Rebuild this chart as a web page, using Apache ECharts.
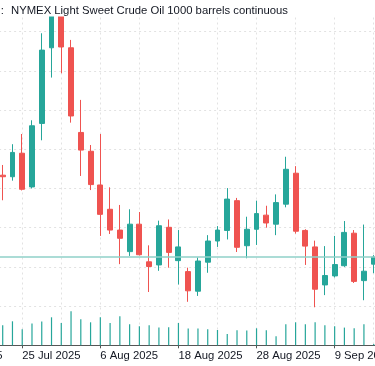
<!DOCTYPE html>
<html>
<head>
<meta charset="utf-8">
<script src="https://cdn.jsdelivr.net/npm/echarts@6/dist/echarts.min.js"></script>
<style>html,body{margin:0;padding:0;background:#fff;}#c{width:375px;height:366px;}</style>
</head>
<body>
<div id="c"></div>
<script>
// Trading days (first 6 and last 1 are outside the visible window, no data shown)
const dates = [
  '15 Jul 2025','16 Jul 2025','17 Jul 2025','18 Jul 2025','21 Jul 2025','22 Jul 2025',
  '23 Jul 2025','24 Jul 2025','25 Jul 2025','28 Jul 2025','29 Jul 2025','30 Jul 2025','31 Jul 2025',
  '1 Aug 2025','4 Aug 2025','5 Aug 2025','6 Aug 2025','7 Aug 2025','8 Aug 2025','11 Aug 2025',
  '12 Aug 2025','13 Aug 2025','14 Aug 2025','15 Aug 2025','18 Aug 2025','19 Aug 2025','20 Aug 2025',
  '21 Aug 2025','22 Aug 2025','25 Aug 2025','26 Aug 2025','27 Aug 2025','28 Aug 2025','29 Aug 2025',
  '1 Sep 2025','2 Sep 2025','3 Sep 2025','4 Sep 2025','5 Sep 2025','8 Sep 2025','9 Sep 2025',
  '10 Sep 2025','11 Sep 2025','12 Sep 2025','15 Sep 2025','16 Sep 2025'
];
const leadingHidden = 6;   // categories before the first visible candle
// OHLC of visible candles (23 Jul 2025 .. 15 Sep 2025)
const opens  = [65.34,65.30,65.90,65.04,66.66,68.59,69.60,68.59,66.43,65.95,65.09,64.47,63.94,
                63.39,64.09,63.13,63.05,64.01,63.16,62.88,62.38,63.12,63.66,63.93,64.69,63.54,
                63.96,64.32,64.09,64.60,65.39,63.93,63.51,62.54,62.77,63.03,63.86,62.65,63.07];
const closes = [65.30,65.92,64.98,66.60,68.53,69.70,68.61,66.85,65.98,65.10,64.34,63.94,63.73,
                64.09,63.31,63.01,64.05,63.37,63.51,62.39,63.15,63.66,63.94,64.73,63.50,63.96,
                64.36,64.12,64.64,65.49,63.91,63.53,62.43,62.78,63.06,63.88,62.63,62.89,63.25];
const lows   = [64.70,65.20,64.95,65.00,66.23,67.83,67.94,66.68,65.32,64.96,63.79,63.84,63.07,
                63.28,63.29,62.36,62.90,62.98,62.55,62.11,62.26,62.85,63.51,63.70,63.38,63.22,
                63.56,64.00,63.81,64.52,63.85,63.05,61.97,62.28,62.73,63.00,62.59,62.15,62.84];
const highs  = [65.60,66.13,66.39,66.74,68.96,69.91,69.81,68.79,67.26,66.11,66.39,65.03,64.58,
                64.47,64.40,63.55,64.18,64.21,63.94,62.98,63.24,63.81,64.04,65.01,64.76,64.28,
                64.69,64.56,64.85,65.81,65.57,63.96,63.67,63.53,63.79,64.17,63.94,64.08,63.30];
// Volume (thousand contracts)
const volumes = [200,240,160,217,237,280,223,340,260,230,280,223,290,
                 210,190,200,177,180,223,167,167,160,153,113,150,147,
                 170,150,90,210,230,210,230,200,190,177,170,210,13];

const candleData = [];
const volData = [];
for (let i = 0; i < dates.length; i++) {
  const k = i - leadingHidden;
  if (k >= 0 && k < opens.length) {
    candleData.push([opens[k], closes[k], lows[k], highs[k]]);
    volData.push(volumes[k]);
  } else {
    candleData.push('-');
    volData.push('-');
  }
}
const lastClose = closes[closes.length - 1];

const FONT = '"Liberation Sans", Arial, sans-serif';
const TEXT = '#131722';
const GRID = '#e2e2e2';

const chart = echarts.init(document.getElementById('c'), null, {renderer: 'canvas'});
chart.setOption({
  animation: false,
  backgroundColor: '#ffffff',
  grid: {left: -55.88, right: -8.46, top: -7.5, bottom: 20.7, containLabel: false, outerBoundsMode: 'none'},
  xAxis: {
    type: 'category',
    data: dates,
    boundaryGap: false,
    axisLine: {show: true, lineStyle: {color: '#555', width: 1}},
    axisTick: {show: true, interval: 7, length: 3, lineStyle: {color: '#555'}},
    axisLabel: {interval: 7, align: 'left', margin: 5, color: TEXT, fontSize: 11.3, fontFamily: FONT, hideOverlap: false},
    splitLine: {show: true, interval: 3, lineStyle: {color: GRID, type: [2, 3], width: 1}}
  },
  yAxis: [
    {
      type: 'value', min: 61, max: 70, interval: 1,
      axisLabel: {show: false}, axisLine: {show: false}, axisTick: {show: false},
      splitLine: {show: true, lineStyle: {color: GRID, type: [2, 3], width: 1}}
    },
    {
      type: 'value', min: 0, max: 3528, show: false,
      splitLine: {show: false}
    }
  ],
  series: [
    {
      type: 'bar',
      yAxisIndex: 1,
      data: volData,
      barWidth: 1.2,
      itemStyle: {color: '#26a69a'},
      silent: true
    },
    {
      type: 'candlestick',
      data: candleData,
      barWidth: 5.4,
      itemStyle: {
        color: '#26a69a', color0: '#ef5350',
        borderColor: '#26a69a', borderColor0: '#ef5350', borderWidth: 1
      },
      markLine: {
        silent: true,
        symbol: ['none', 'none'],
        label: {show: false},
        lineStyle: {color: '#8fd0c9', width: 1.5, type: 'solid'},
        data: [{yAxis: lastClose}]
      }
    }
  ],
  graphic: [
    {type: 'rect', z: 100, shape: {x: 0, y: 0, width: 375, height: 16.5}, style: {fill: '#ffffff'}},
    {type: 'text', z: 101, x: 0.8, y: 11, style: {text: ':', fill: TEXT, font: '11.3px ' + FONT, verticalAlign: 'middle'}},
    {type: 'text', z: 101, x: 11, y: 11, style: {text: 'NYMEX Light Sweet Crude Oil 1000 barrels continuous', fill: TEXT, font: '11.3px ' + FONT, verticalAlign: 'middle'}}
  ]
});
</script>
</body>
</html>
